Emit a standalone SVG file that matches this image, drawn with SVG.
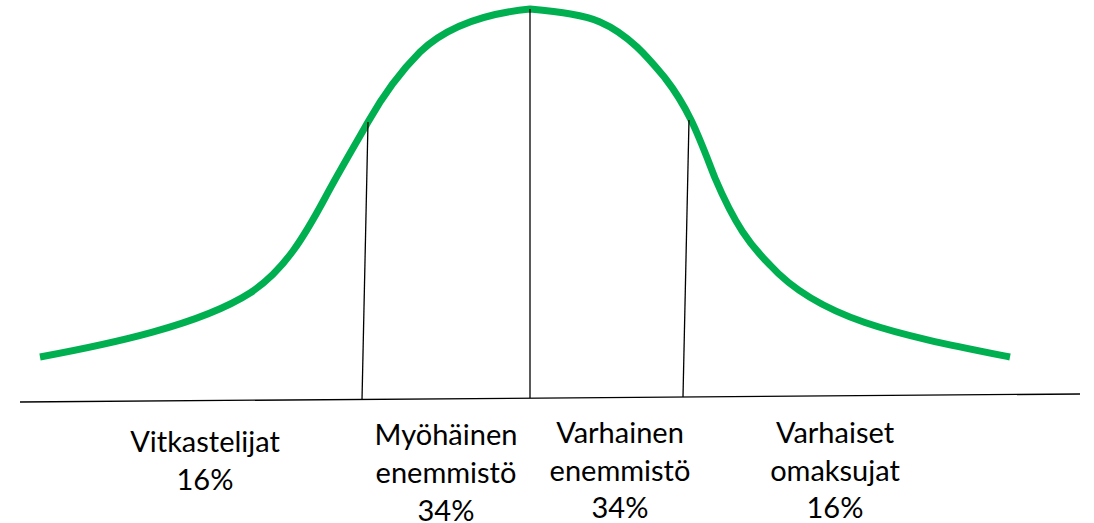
<svg xmlns="http://www.w3.org/2000/svg" width="1094" height="523" viewBox="0 0 1094 523">
<style>
.curve{fill:none;stroke:#00B050;stroke-width:7;stroke-linecap:butt;stroke-linejoin:round}
.ln{stroke:#000;stroke-width:1.3;fill:none}
.lbl{font-family:Lato,"Open Sans",sans-serif;font-size:29px;fill:#000;text-anchor:middle}
</style>
<rect width="1094" height="523" fill="#fff"/>
<g id="connectors">
<path id="curve" class="curve" d="M40,357 C110,344 200,325 250,293 C285,270 305,235 325,198 C340,170 355,145 368,122 C385,92 400,72 420,52 C445,28 480,14 530,9 C560,12 585,15 600,22 C630,35 650,60 665,78 C690,110 700,140 715,178 C735,225 750,245 770,265 C820,320 900,335 1010,357"/>
<line class="ln" x1="20" y1="402" x2="1080" y2="394"/>
<line class="ln" x1="368" y1="122" x2="362" y2="400"/>
<line class="ln" x1="530" y1="9" x2="530" y2="398"/>
<line class="ln" x1="689" y1="120" x2="683" y2="397"/>
</g>
<g id="vitkastelijat"><text class="lbl" x="205" y="452">Vitkastelijat</text><text class="lbl" x="205" y="490">16%</text></g>
<g id="myohainen"><text class="lbl" x="446" y="445">Myöhäinen</text><text class="lbl" x="446" y="483">enemmistö</text><text class="lbl" x="446" y="521">34%</text></g>
<g id="varhainen"><text class="lbl" x="620" y="443">Varhainen</text><text class="lbl" x="620" y="481">enemmistö</text><text class="lbl" x="620" y="518">34%</text></g>
<g id="varhaiset"><text class="lbl" x="835" y="443">Varhaiset</text><text class="lbl" x="835" y="481">omaksujat</text><text class="lbl" x="835" y="518">16%</text></g>
</svg>
